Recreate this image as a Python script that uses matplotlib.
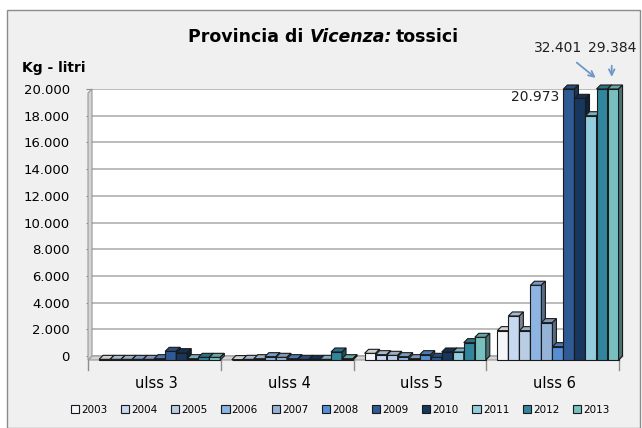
import numpy as np
import matplotlib.pyplot as plt
from matplotlib.patches import Rectangle, Polygon

categories = ['ulss 3', 'ulss 4', 'ulss 5', 'ulss 6']
years = ['2003', '2004', '2005', '2006', '2007', '2008', '2009', '2010', '2011', '2012', '2013']
values = {
    '2003': [50, 30, 500, 2200],
    '2004': [50, 50, 400, 3300],
    '2005': [50, 100, 350, 2200],
    '2006': [50, 250, 250, 5600],
    '2007': [50, 200, 100, 2800],
    '2008': [100, 100, 400, 1000],
    '2009': [650, 50, 200, 20973],
    '2010': [550, 50, 600, 19600],
    '2011': [100, 50, 600, 18300],
    '2012': [200, 600, 1300, 32401],
    '2013': [200, 100, 1700, 29384],
}
colors = ['#f4f6fa', '#c6d9f1', '#b9cde5', '#8eb4e3', '#95b3d7', '#558ed5',
          '#2f5a94', '#17375e', '#93cddd', '#31859c', '#78c0c0']
ymax = 20000
yticks = np.arange(0, 20001, 2000)


def shade(c, f):
    c = np.array(plt.matplotlib.colors.to_rgb(c))
    return tuple(c * f)


fig = plt.figure(figsize=(6.42, 4.28), dpi=100)
fig.patch.set_facecolor('white')
fig.patches.append(Rectangle((7 / 642, 0), 633 / 642, 1 - 10 / 428, transform=fig.transFigure,
                             facecolor='#f0f0f0', edgecolor='#8c8c8c', lw=1, zorder=-5))

ax = fig.add_axes([92 / 642, 1 - 356 / 428, 531 / 642, 267 / 428])
ax.set_facecolor('white')
ax.set_xlim(-0.5, 3.5)
ax.set_ylim(0, ymax)
for s in ax.spines.values():
    s.set_visible(False)
ax.set_yticks(yticks)
ax.set_yticklabels(['{:,}'.format(v).replace(',', '.') for v in yticks], fontsize=9.5)
ax.tick_params(axis='y', length=4, color='#8c8c8c', pad=12)
ax.grid(axis='y', color='#b0b0b0', lw=1.2)
ax.set_axisbelow(True)
ax.set_xticks([])
ax.axvline(3.5, color='#b0b0b0', lw=1.2)

# depth of the fake 3d look, in data units
dx = 4 / 133
dy = 4 / 267 * ymax

# floor and left wall
ax.add_patch(Polygon([(-0.5 - dx, -dy), (3.5 - dx, -dy), (3.5, 0), (-0.5, 0)],
                     closed=True, facecolor='#d4d4d4', edgecolor='#9a9a9a', lw=0.8,
                     clip_on=False, zorder=1))
ax.add_patch(Polygon([(-0.5 - dx, -dy), (-0.5, 0), (-0.5, ymax), (-0.5 - dx, ymax - dy)],
                     closed=True, facecolor='#d4d4d4', edgecolor='#9a9a9a', lw=0.8,
                     clip_on=False, zorder=1))

n = len(years)
w = 0.083
x = np.arange(len(categories))
for i, yr in enumerate(years):
    xs = x - n * w / 2 + i * w + w / 2 + 0.01
    for xc, v in zip(xs, values[yr]):
        h = min(v, ymax + dy)
        left = xc - w / 2
        ax.add_patch(Rectangle((left, -dy), w, h, facecolor=colors[i],
                               edgecolor='#1a1a1a', lw=0.8, zorder=3 + i, clip_on=False))
        top = -dy + h
        ax.add_patch(Polygon([(left, top), (left + w, top), (left + w + dx, top + dy), (left + dx, top + dy)],
                             closed=True, facecolor=shade(colors[i], 0.85), edgecolor='#1a1a1a',
                             lw=0.8, zorder=3 + i, clip_on=False))
        ax.add_patch(Polygon([(left + w, -dy), (left + w + dx, 0), (left + w + dx, top + dy), (left + w, top)],
                             closed=True, facecolor=shade(colors[i], 0.6), edgecolor='#1a1a1a',
                             lw=0.8, zorder=3 + i, clip_on=False))
    ax.bar([0], [0], color=colors[i], edgecolor='#1a1a1a', lw=0.8, label=yr)

# category separators and labels
for b in np.arange(-0.5, 4, 1):
    ax.plot([b - dx, b - dx], [-dy, -dy - 10 / 267 * ymax], color='#8c8c8c', lw=1, clip_on=False)
for xc, c in zip(x, categories):
    ax.text(xc - dx / 2, -dy - 24 / 267 * ymax, c, ha='center', va='center', fontsize=10.5)

# labels for clipped bars
xs9 = x[3] - n * w / 2 + 6 * w + w / 2 + 0.01
ax.text(xs9 - w / 2 - 0.03, ymax - 600, '20.973', ha='right', va='center', fontsize=10, color='#1f1f1f')
xs12 = x[3] - n * w / 2 + 9 * w + w / 2 + 0.01
xs13 = x[3] - n * w / 2 + 10 * w + w / 2 + 0.01
ax.annotate('32.401', xy=(xs12 - w / 2 + 0.01, ymax + 700), xytext=(xs12 - 0.33, ymax + 3100),
            ha='center', va='center', fontsize=10, color='#1f1f1f', annotation_clip=False,
            arrowprops=dict(arrowstyle='->', color='#6f97c8', lw=1.3, shrinkA=6))
ax.annotate('29.384', xy=(xs13 - 0.01, ymax + 700), xytext=(xs13 - 0.01, ymax + 3100),
            ha='center', va='center', fontsize=10, color='#1f1f1f', annotation_clip=False,
            arrowprops=dict(arrowstyle='->', color='#6f97c8', lw=1.3, shrinkA=6))

fig.text(54 / 642, 1 - 68 / 428, 'Kg - litri', ha='center', va='center', fontsize=10, fontweight='bold')

# title with the italic word
t1 = fig.text(188 / 642, 1 - 37 / 428, 'Provincia di ', fontsize=12.5, fontweight='bold', va='center')
fig.canvas.draw()
r = fig.canvas.get_renderer()
bb = t1.get_window_extent(r)
t2 = fig.text(bb.x1 / 642, 1 - 37 / 428, 'Vicenza:', fontsize=12.5, fontweight='bold',
              style='italic', va='center')
bb2 = t2.get_window_extent(r)
fig.text(bb2.x1 / 642 + 4 / 642, 1 - 37 / 428, 'tossici', fontsize=12.5, fontweight='bold', va='center')

fig.legend(loc='center', bbox_to_anchor=(0.53, 1 - 410 / 428), ncol=11, frameon=False,
           fontsize=7.5, handlelength=0.8, handleheight=0.8, handletextpad=0.2, columnspacing=1.3)

fig.savefig('out.png', dpi=100)
